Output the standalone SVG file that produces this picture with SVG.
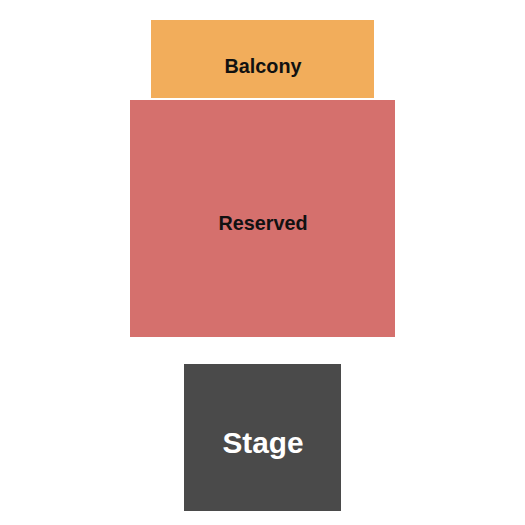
<svg xmlns="http://www.w3.org/2000/svg" width="525" height="525" viewBox="0 0 525 525">
<style>
text{font-family:"Liberation Sans",Arial,sans-serif;font-weight:bold;text-anchor:middle}
.lbl{font-size:19.8px;fill:#111}
.stg{font-size:29.8px;fill:#fff}
</style>
<rect width="525" height="525" fill="#fff"/>
<g id="balcony"><rect x="151" y="20" width="223" height="78" fill="#f2ad5b"/><text class="lbl" x="263" y="73">Balcony</text></g>
<g id="reserved"><rect x="130" y="100" width="265" height="237" fill="#d5706d"/><text class="lbl" x="263" y="230">Reserved</text></g>
<g id="stage"><rect x="184" y="364" width="157" height="147" fill="#4a4a4a"/><text class="stg" x="263" y="453">Stage</text></g>
<g id="connectors"/>
</svg>
